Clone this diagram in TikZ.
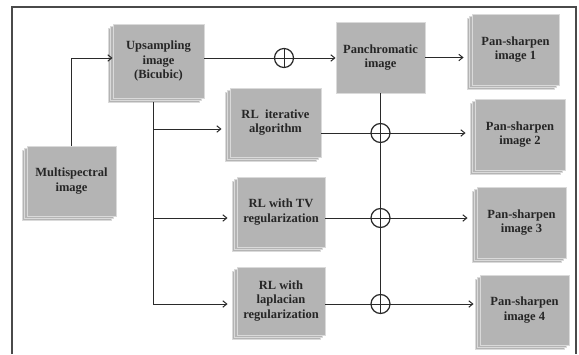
\documentclass[tikz,border=0pt]{standalone}
\usepackage{fontspec}
\setmainfont{Liberation Serif}
\usetikzlibrary{arrows.meta,shadows}
\definecolor{boxgray}{HTML}{B4B4B4}
\definecolor{boxedge}{HTML}{DADADA}
\definecolor{linec}{HTML}{2A2A2A}
\definecolor{framec}{HTML}{4A4A4A}
\begin{document}
\begin{tikzpicture}[x=1pt,y=-1pt,
  box/.style={draw=boxedge, fill=boxgray, line width=0.9pt, minimum width=89pt,
    minimum height=70pt, align=center, inner sep=2pt,
    font=\bfseries\fontsize{12.5}{14.5}\selectfont, text=black!85},
  stack/.style={box, double copy shadow={shadow xshift=-2.5pt, shadow yshift=-2pt}},
  sum/.style={circle, draw=linec, fill=white, line width=1.2pt, minimum size=19pt, inner sep=0pt},
  conn/.style={draw=linec, line width=0.9pt},
  arr/.style={conn, -{Straight Barb[length=4pt,width=6.5pt,line width=1pt]}},
  frame/.style={draw=framec, line width=1.3pt}]
\useasboundingbox (0,0) rectangle (579,354);
\draw[frame] (12,354) -- (12,7) -- (576,7) -- (576,354);

% boxes
\node[stack, minimum width=91pt, minimum height=74pt] (ups) at (158.5,61) {Upsampling\\image\\(Bicubic)};
\node[stack] (ms) at (71.5,181) {Multispectral\\image};
\node[box, minimum height=71pt] (pan) at (380.5,57.5) {Panchromatic\\image};
\node[stack, minimum width=87pt, minimum height=71pt] (p1) at (515.5,49.5) {Pan-sharpen\\image 1};
\node[stack, minimum width=91pt, minimum height=69pt] (rlit) at (275.5,122.5) {RL\ \ iterative\\algorithm};
\node[stack, minimum width=90pt, minimum height=71pt] (p2) at (520,134.5) {Pan-sharpen\\image 2};
\node[stack, minimum width=88pt] (rltv) at (281,212) {RL with TV\\regularization};
\node[stack, minimum height=71pt] (p3) at (521.5,222.5) {Pan-sharpen\\image 3};
\node[stack, minimum width=88pt, minimum height=68pt] (rllap) at (281,301) {RL with\\laplacian\\regularization};
\node[stack] (p4) at (524.5,310) {Pan-sharpen\\image 4};

% summation circles
\node[sum] (c1) at (284,58) {};
\node[sum] (c2) at (380.5,133) {};
\node[sum] (c3) at (380.5,218) {};
\node[sum] (c4) at (380.5,304) {};
\foreach \c in {c1,c2,c3,c4}
  \draw[conn] (\c.north) -- (\c.south) (\c.west) -- (\c.east);

% trunk coordinates
\coordinate (t0) at (153,102);
\coordinate (b1) at (153,129);
\coordinate (b2) at (153,218);
\coordinate (b3) at (153,304);

% connectors
\draw[arr] (ms.north) |- ([yshift=3pt]ups.west);
\draw[conn] ([yshift=3pt]ups.east) -- (c1.west);
\draw[arr] (c1.east) -- (c1.east -| pan.west);
\draw[arr, shorten >=8pt] (pan.east) -- (pan.east -| p1.west);

\draw[conn] (t0) -- (b3);
\draw[arr, shorten >=8pt] (b1) -- (b1 -| rlit.west);
\draw[arr, shorten >=9pt] (b2) -- (b2 -| rltv.west);
\draw[arr, shorten >=9pt] (b3) -- (b3 -| rllap.west);

\draw[conn] (pan.south) -- (c2.north);
\draw[conn] (c2.south) -- (c3.north);
\draw[conn] (c3.south) -- (c4.north);

\draw[conn] (c2.west -| rlit.east) -- (c2.west);
\draw[arr, shorten >=9pt] (c2.east) -- (c2.east -| p2.west);
\draw[conn] (c3.west -| rltv.east) -- (c3.west);
\draw[arr, shorten >=9pt] (c3.east) -- (c3.east -| p3.west);
\draw[conn] (c4.west -| rllap.east) -- (c4.west);
\draw[arr, shorten >=6pt] (c4.east) -- (c4.east -| p4.west);
\end{tikzpicture}
\end{document}
